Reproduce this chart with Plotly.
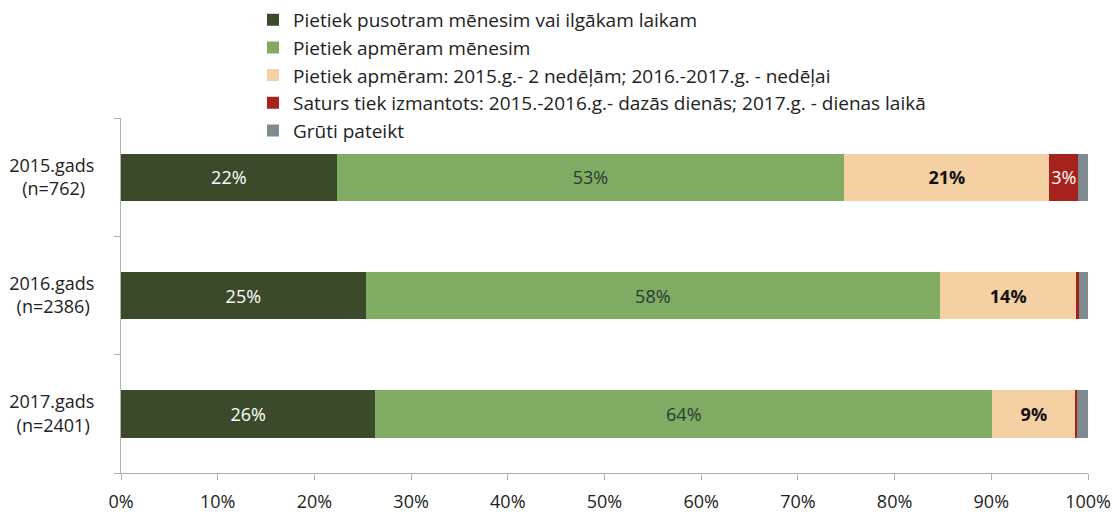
import plotly.graph_objects as go

categories = ["2015.gads<br>(n=762)&nbsp;&nbsp;", "2016.gads<br>(n=2386)&nbsp;", "2017.gads<br>(n=2401)&nbsp;"]
y_pos = [2, 1, 0]

series_names = [
    "Pietiek pusotram mēnesim vai ilgākam laikam",
    "Pietiek apmēram mēnesim",
    "Pietiek apmēram: 2015.g.- 2 nedēļām; 2016.-2017.g. - nedēļai",
    "Saturs tiek izmantots: 2015.-2016.g.- dazās dienās; 2017.g. - dienas laikā",
    "Grūti pateikt",
]
long_term = [22.3, 25.3, 26.3]
month = [52.5, 59.4, 63.8]
week = [21.2, 14.1, 8.6]
days = [3.0, 0.3, 0.2]
unsure = [1.0, 0.9, 1.1]

long_term_lbl = ["22%", "25%", "26%"]
month_lbl = ["53%", "58%", "64%"]
week_lbl = ["21%", "14%", "9%"]
days_lbl = ["3%", "", ""]
unsure_lbl = ["", "", ""]

colors = ["#3a4a2b", "#7fab62", "#f4d0a2", "#a5231c", "#7f8a90"]
text_colors = ["white", "#2b3a3a", "#111111", "white", "white"]
bold = [False, False, True, False, False]

values = [long_term, month, week, days, unsure]
labels = [long_term_lbl, month_lbl, week_lbl, days_lbl, unsure_lbl]

FONT = "Open Sans"

fig = go.Figure()
for i in range(5):
    txt = [("<b>%s</b>" % t if (bold[i] and t) else t) for t in labels[i]]
    fig.add_trace(go.Bar(
        y=y_pos, x=values[i], orientation="h", name=series_names[i],
        marker=dict(color=colors[i], line=dict(width=0)),
        text=txt, textposition="inside", insidetextanchor="middle",
        textangle=0, constraintext="none",
        textfont=dict(color=text_colors[i], size=18, family=FONT),
        legendgroup="g%d" % i, hoverinfo="skip",
    ))

fig.update_layout(
    barmode="stack", bargap=0.6,
    width=1119, height=519,
    margin=dict(l=113, r=39, t=110, b=54, autoexpand=False),
    paper_bgcolor="white", plot_bgcolor="white",
    font=dict(family=FONT, size=18, color="#222222"),
    legend=dict(
        x=0.1365, y=1.33, xanchor="left", yanchor="top",
        traceorder="normal", orientation="v",
        font=dict(size=19, family=FONT, color="#222222"),
        tracegroupgap=0, itemwidth=30, bgcolor="rgba(0,0,0,0)",
    ),
    showlegend=True,
)
fig.update_xaxes(
    range=[0, 100], tickvals=list(range(0, 101, 10)),
    ticktext=["%d%%" % v for v in range(0, 101, 10)],
    showgrid=False, zeroline=False, showline=True, linecolor="#b0b0b0",
    ticks="outside", ticklen=6, tickcolor="#b0b0b0", ticklabelstandoff=6,
    tickfont=dict(size=18, family=FONT, color="#222222"),
    fixedrange=True,
)
fig.update_yaxes(
    range=[-0.5, 2.5], tickvals=y_pos, ticktext=categories,
    showgrid=False, zeroline=False, showline=True, linecolor="#b0b0b0",
    ticks="", ticklabelstandoff=22,
    minor=dict(tickvals=[-0.5, 0.5, 1.5, 2.5], ticks="outside", ticklen=6, tickcolor="#b0b0b0"),
    tickfont=dict(size=18, family=FONT, color="#222222"),
    fixedrange=True,
)

fig.write_html("out.html")
